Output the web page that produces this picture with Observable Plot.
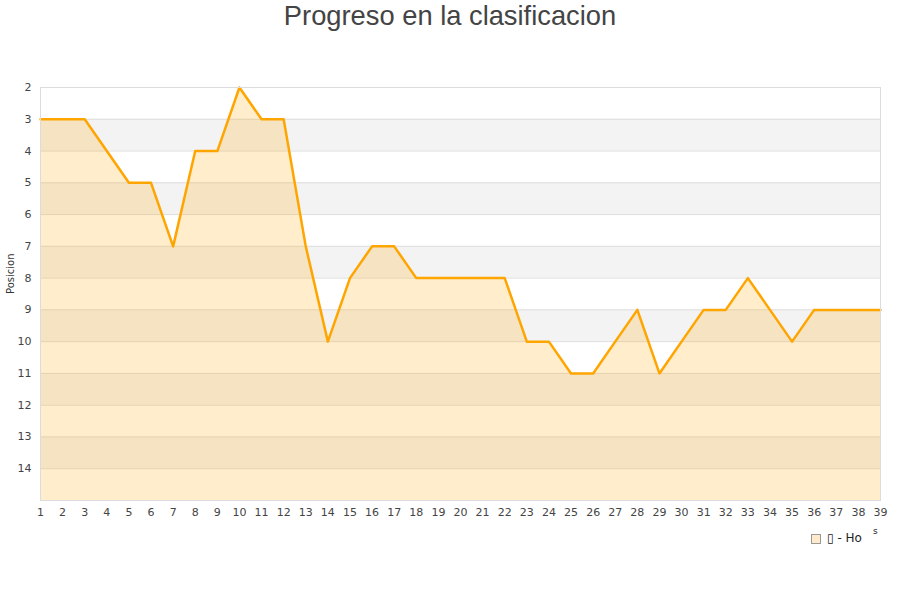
<!DOCTYPE html>
<html>
<head>
<meta charset="utf-8">
<script src="https://cdn.jsdelivr.net/npm/d3@7"></script>
<script src="https://cdn.jsdelivr.net/npm/@observablehq/plot@0.6"></script>
<style>
  html, body { margin: 0; padding: 0; background: #fff; }
  #wrap { position: relative; width: 900px; height: 600px; }
  #title { position: absolute; top: 0; left: 0; width: 900px; text-align: center;
           font-family: "Liberation Sans", Arial, sans-serif; font-size: 27.3px; color: #444; line-height: 32px; }
  #chart { position: absolute; top: 0; left: 0; }
  #legend { position: absolute; left: 811px; top: 531px; font-family: "DejaVu Sans", sans-serif; font-size: 12px; font-weight: normal; color: #222; }
  #legend .sw { display: inline-block; width: 8px; height: 8px; background: #ffebcc; border: 1px solid #999; vertical-align: middle; margin-right: 6px; }
  #extra { position: absolute; left: 873px; top: 526px; font-family: "DejaVu Sans", sans-serif; font-size: 9px; color: #222; }
</style>
</head>
<body>
<div id="wrap">
  <div id="chart"></div>
  <div id="title">Progreso en la clasificacion</div>
  <div id="legend"><span class="sw"></span>▯ - Ho</div>
  <div id="extra">s</div>
</div>
<script>
const rounds = d3.range(1, 40);
const positions = [3,3,3,4,5,5,7,4,4,2,3,3,7,10,8,7,7,8,8,8,8,8,10,10,11,11,10,9,11,10,9,9,8,9,10,9,9,9,9];
const yTicks = [2,3,4,5,6,7,8,9,10,11,12,13,14];
const grayBands = [3,5,7,9,11,13];
const gridLines = [2,3,4,5,6,7,8,9,10,11,12,13,14,15];
const yLabel = "Posicion";

const data = rounds.map((r, i) => ({round: r, pos: positions[i], base: 15}));
const bands = grayBands.map(b => ({x1: rounds[0], x2: rounds[rounds.length - 1], y1: b, y2: b + 1}));

const chart = Plot.plot({
  width: 900,
  height: 600,
  marginTop: 87,
  marginBottom: 100,
  marginLeft: 40,
  marginRight: 20,
  style: {fontFamily: "DejaVu Sans, sans-serif", fontSize: "11px", color: "#444", background: "transparent"},
  x: {domain: [1, 39], label: null},
  y: {domain: [15, 2], label: null},
  marks: [
    Plot.rect(bands, {x1: "x1", x2: "x2", y1: "y1", y2: "y2", fill: "#f3f3f3"}),
    Plot.ruleY(gridLines, {stroke: "#dedede", strokeWidth: 1}),
    Plot.areaY(data, {x: "round", y1: "base", y2: "pos", fill: "orange", fillOpacity: 0.2}),
    Plot.line(data, {x: "round", y: "pos", stroke: "orange", strokeWidth: 2.5}),
    Plot.frame({stroke: "#dcdcdc"}),
    Plot.axisX({ticks: rounds, tickSize: 0, tickPadding: 8, tickFormat: d => String(d), label: null}),
    Plot.axisY({ticks: yTicks, tickSize: 0, tickPadding: 9, tickFormat: d => String(d), label: null}),
    Plot.text([yLabel], {frameAnchor: "left", dx: -30, rotate: -90, text: d => d, fontSize: 10, fill: "#333"})
  ]
});
document.getElementById("chart").appendChild(chart);
</script>
</body>
</html>
